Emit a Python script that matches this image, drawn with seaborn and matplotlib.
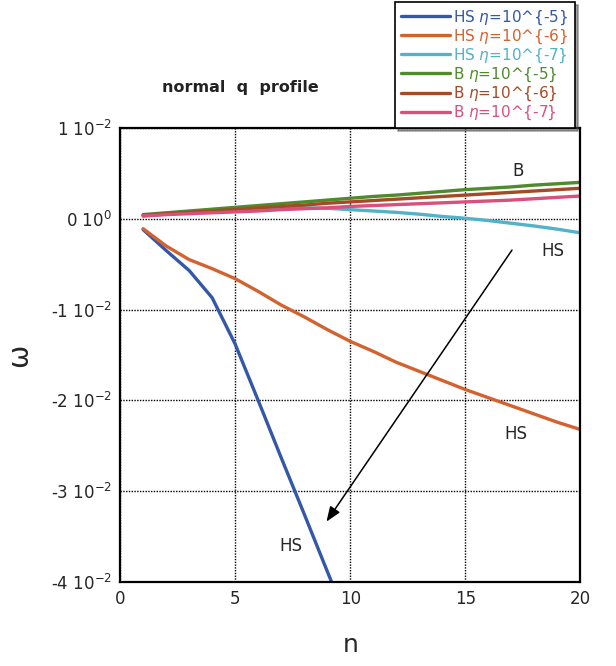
import matplotlib
matplotlib.use("Agg")
import matplotlib.pyplot as plt
import seaborn as sns
import pandas as pd
import numpy as np

# growth rate omega, in units of 1e-2
n_vals = list(range(1, 21))
hs_5 = [-0.12, -0.35, -0.57, -0.87, -1.38, -2.00, -2.63, -3.25, -3.88, -4.50]
hs_6 = [-0.11, -0.30, -0.45, -0.55, -0.66, -0.80, -0.95, -1.08, -1.22, -1.35,
        -1.46, -1.58, -1.68, -1.78, -1.88, -1.97, -2.06, -2.15, -2.24, -2.32]
hs_7 = [0.03, 0.05, 0.07, 0.09, 0.10, 0.115, 0.12, 0.12, 0.115, 0.10,
        0.085, 0.07, 0.05, 0.025, 0.005, -0.02, -0.05, -0.08, -0.115, -0.155]
b_5 = [0.045, 0.065, 0.085, 0.105, 0.125, 0.145, 0.165, 0.185, 0.205, 0.225,
       0.245, 0.26, 0.28, 0.30, 0.32, 0.335, 0.35, 0.37, 0.385, 0.40]
b_6 = [0.04, 0.055, 0.07, 0.085, 0.10, 0.12, 0.135, 0.15, 0.17, 0.185,
       0.20, 0.215, 0.23, 0.245, 0.26, 0.275, 0.29, 0.305, 0.32, 0.335]
b_7 = [0.03, 0.045, 0.055, 0.065, 0.075, 0.085, 0.10, 0.11, 0.12, 0.135,
       0.145, 0.155, 0.165, 0.175, 0.185, 0.195, 0.205, 0.22, 0.235, 0.25]

labels = [r"HS $\eta$=10^{-5}", r"HS $\eta$=10^{-6}", r"HS $\eta$=10^{-7}",
          r"B $\eta$=10^{-5}", r"B $\eta$=10^{-6}", r"B $\eta$=10^{-7}"]
series = [hs_5, hs_6, hs_7, b_5, b_6, b_7]
colors = ["#3557a8", "#d4622f", "#52b2c8", "#4f8a2c", "#a44a26", "#d9507c"]

y_ticks = [1, 0, -1, -2, -3, -4]
y_ticklabels = [r"1 10$^{-2}$", r"0 10$^{0}$", r"-1 10$^{-2}$", r"-2 10$^{-2}$",
                r"-3 10$^{-2}$", r"-4 10$^{-2}$"]
x_ticks = [0, 5, 10, 15, 20]

rows = []
for lab, vals in zip(labels, series):
    for n, v in zip(n_vals, vals):
        rows.append({"n": n, "omega": v * 1e-2, "series": lab})
df = pd.DataFrame(rows)

sns.set_style("white")
plt.rcParams["font.family"] = ["DejaVu Sans"]

fig = plt.figure(figsize=(6.16, 6.66), dpi=100)
ax = fig.add_axes([0.195, 0.126, 0.747, 0.682])

sns.lineplot(data=df, x="n", y="omega", hue="series", hue_order=labels,
             palette=dict(zip(labels, colors)), linewidth=2.4, legend=False,
             ax=ax, sort=True)

ax.set_xlim(0, 20)
ax.set_ylim(-4e-2, 1e-2)
ax.set_xticks(x_ticks)
ax.set_xticklabels([str(t) for t in x_ticks], fontsize=12)
ax.set_yticks([t * 1e-2 for t in y_ticks])
ax.set_yticklabels(y_ticklabels, fontsize=12)
ax.tick_params(axis="both", length=0, pad=6)
ax.grid(True, color="black", linestyle=(0, (1, 1)), linewidth=1.0)
for s in ax.spines.values():
    s.set_color("black")
    s.set_linewidth(1.6)

ax.set_xlabel("n", fontsize=18, labelpad=18)
ax.set_ylabel("ω", fontsize=20)
ax.yaxis.set_label_coords(-0.19, 0.5)

# annotations
ax.text(17.3, 0.53e-2, "B", fontsize=12, ha="center", va="center")
ax.text(18.8, -0.35e-2, "HS", fontsize=12, ha="center", va="center")
ax.text(17.2, -2.37e-2, "HS", fontsize=12, ha="center", va="center")
ax.text(7.4, -3.6e-2, "HS", fontsize=12, ha="center", va="center")
ax.annotate("", xy=(8.9, -3.36e-2), xytext=(17.1, -0.32e-2),
            arrowprops=dict(arrowstyle="-|>,head_length=0.9,head_width=0.35",
                            color="black", lw=1.1, facecolor="#555555"))

fig.text(0.39, 0.868, "normal  q  profile", fontsize=11.5, fontweight="bold",
         ha="center", va="center", color="#222222")

handles = ax.get_lines()[:len(labels)]
leg = fig.legend(handles, labels, loc="upper right", bbox_to_anchor=(0.933, 0.997),
                 borderaxespad=0,
                 fontsize=11, frameon=True, fancybox=False, shadow=True,
                 edgecolor="black", framealpha=1, handlelength=3.2,
                 handletextpad=0.2, labelspacing=0.05, borderpad=0.4,
                 labelcolor="linecolor")
leg.get_frame().set_linewidth(1.2)

fig.savefig("out.png", dpi=100)
